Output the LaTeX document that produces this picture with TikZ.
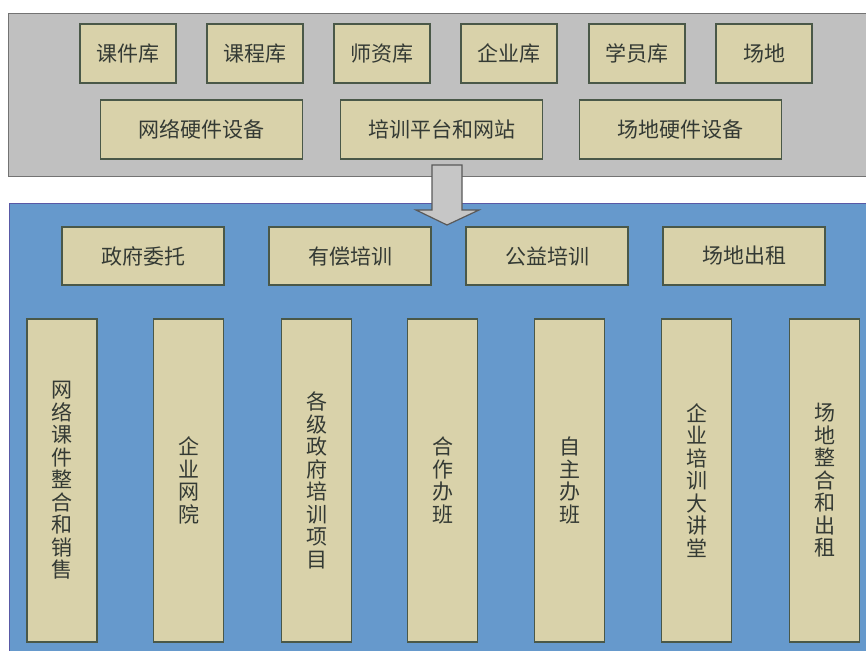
\documentclass[tikz,border=0pt]{standalone}
\usepackage{fontspec}
\newfontfamily\cjk{Noto Sans CJK SC}
\usepackage{tikz}
\definecolor{panelgray}{HTML}{C0C0C0}
\definecolor{panelblue}{HTML}{6699CC}
\definecolor{boxfill}{HTML}{D9D2AA}
\definecolor{boxline}{HTML}{4A5848}
\definecolor{txt}{HTML}{343A34}
\tikzset{
  item/.style={draw=boxline, line width=1.3pt, fill=boxfill, text=txt,
    font=\cjk\fontsize{21}{22.5}\selectfont, inner sep=0pt, align=center},
  panel/.style={line width=1pt}
}

\begin{document}
\begin{tikzpicture}[x=1pt, y=-1pt]
\useasboundingbox (0,0) rectangle (866,650);
\draw[panel, draw=gray!90!black, fill=panelgray] (8,14) rectangle (870,176);
\draw[panel, draw=blue!30!gray, fill=panelblue] (9,203) rectangle (870,655);
\foreach \x/\n/\lab in {128/kj/课件库, 255/kc/课程库, 382/sz/师资库, 509/qy/企业库, 637/xy/学员库, 764/cd/场地} {
    \node[item, minimum width=96pt, minimum height=59pt] (\n) at (\x,53.5) {\lab};
}
\foreach \x/\n/\lab in {201.5/wl/网络硬件设备, 441.5/pt/培训平台和网站, 680.5/yj/场地硬件设备} {
    \node[item, minimum width=202pt, minimum height=59pt] (\n) at (\x,129.5) {\lab};
}
\draw[line width=1.2pt, draw=gray!70!black, fill=gray!45] (432,165) -- (462,165) -- (462,210) -- (479,210)
    -- (447,225) -- (416,210) -- (432,210) -- cycle;
\foreach \x/\n/\lab in {143/zf/政府委托, 350/yc/有偿培训, 547/gy/公益培训, 744/cz/场地出租} {
    \node[item, minimum width=162pt, minimum height=58pt] (\n) at (\x,256) {\lab};
}
\foreach \x/\n/\lab in {62/xs/{网\\络\\课\\件\\整\\合\\和\\销\\售}, 188.5/wy/{企\\业\\网\\院},
    316.5/xm/{各\\级\\政\\府\\培\\训\\项\\目}, 442.5/hz/{合\\作\\办\\班}, 569.5/zz/{自\\主\\办\\班},
    696.5/jt/{企\\业\\培\\训\\大\\讲\\堂}, 824.5/zh/{场\\地\\整\\合\\和\\出\\租}} {
    \node[item, minimum width=70pt, minimum height=323pt] (\n) at (\x,480.5) {\lab};
}
\end{tikzpicture}
\end{document}
